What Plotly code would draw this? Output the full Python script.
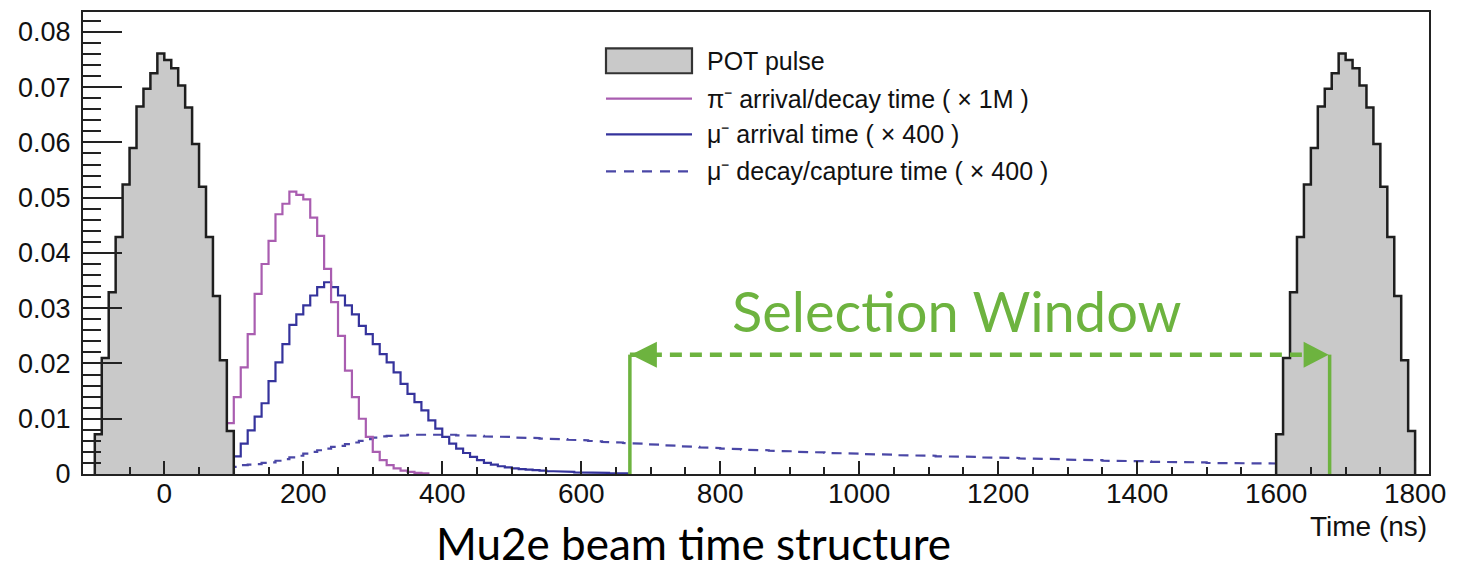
import plotly.graph_objects as go

# ---------------- data ----------------
bin_ns = 10
# proton-on-target pulse, 10 ns bins, starting at -100 ns and repeating at 1600 ns
pot_pulse_starts = [-100, 1600]
pot_pulse = [0.0072, 0.0210, 0.0329, 0.0429, 0.0524, 0.0590, 0.0665, 0.0697, 0.0725, 0.0761,
             0.0749, 0.0734, 0.0703, 0.0663, 0.0597, 0.0520, 0.0429, 0.0322, 0.0206, 0.0078]

# pi- arrival/decay time (x 1M), bins from 90 ns
pion_start = 90
pion = [0.0092, 0.0139, 0.0193, 0.0253, 0.0326, 0.0380, 0.0422, 0.0470, 0.0489, 0.0511,
        0.0505, 0.0497, 0.0464, 0.0431, 0.0371, 0.0311, 0.0250, 0.0187, 0.0139, 0.0100,
        0.0067, 0.0040, 0.0025, 0.0016, 0.0010, 0.0006, 0.0004, 0.0002, 0.0001]

# mu- arrival time (x 400), bins from 100 ns
muon_start = 100
muon_arrival = [0.0032, 0.0055, 0.0079, 0.0104, 0.0128, 0.0168, 0.0202, 0.0235, 0.0270, 0.0289,
                0.0305, 0.0323, 0.0338, 0.0347, 0.0338, 0.0323, 0.0305, 0.0289, 0.0268, 0.0253,
                0.0235, 0.0217, 0.0202, 0.0184, 0.0163, 0.0145, 0.0130, 0.0115, 0.0097, 0.0082,
                0.0067, 0.0055, 0.0046, 0.0038, 0.0031, 0.0025, 0.0020, 0.0017, 0.0014, 0.0012,
                0.0010, 0.0009, 0.0008, 0.0007, 0.0006, 0.0005, 0.0005, 0.0004, 0.0004, 0.0003,
                0.0003, 0.0002, 0.0002, 0.0002, 0.0001, 0.0001, 0.0001]

# mu- decay/capture time (x 400), bins from 100 ns to 1600 ns
decay_start = 100
muon_decay = [0.0013, 0.0016, 0.0017, 0.0018, 0.0020, 0.0021, 0.0024, 0.0027, 0.0030, 0.0033,
              0.0037, 0.0040, 0.0043, 0.0046, 0.0049, 0.0051, 0.0054, 0.0057, 0.0060, 0.0063,
              0.0066, 0.0068, 0.0069, 0.0069, 0.0070, 0.0071, 0.0071, 0.0072, 0.0072, 0.0072,
              0.0071, 0.0071, 0.0070, 0.0070, 0.0069, 0.0069, 0.0068, 0.0068, 0.0067, 0.0067,
              0.0066, 0.0066, 0.0065, 0.0065, 0.0064, 0.0064, 0.0063, 0.0063, 0.0062, 0.0061,
              0.0061, 0.0060, 0.0059, 0.0058, 0.0058, 0.0057, 0.0056, 0.0055, 0.0055, 0.0054,
              0.0053, 0.0053, 0.0052, 0.0051, 0.0050, 0.0050, 0.0049, 0.0048, 0.0048, 0.0047,
              0.0046, 0.0046, 0.0045, 0.0044, 0.0044, 0.0043, 0.0043, 0.0042, 0.0042, 0.0041,
              0.0041, 0.0040, 0.0040, 0.0039, 0.0039, 0.0038, 0.0038, 0.0037, 0.0037, 0.0037,
              0.0036, 0.0036, 0.0035, 0.0035, 0.0035, 0.0034, 0.0034, 0.0034, 0.0033, 0.0033,
              0.0033, 0.0032, 0.0032, 0.0032, 0.0031, 0.0031, 0.0031, 0.0030, 0.0030, 0.0030,
              0.0029, 0.0029, 0.0029, 0.0028, 0.0028, 0.0028, 0.0027, 0.0027, 0.0027, 0.0026,
              0.0026, 0.0026, 0.0025, 0.0025, 0.0025, 0.0024, 0.0024, 0.0024, 0.0023, 0.0023,
              0.0023, 0.0023, 0.0022, 0.0022, 0.0022, 0.0022, 0.0021, 0.0021, 0.0021, 0.0021,
              0.0020, 0.0020, 0.0020, 0.0020, 0.0020, 0.0019, 0.0019, 0.0019, 0.0019, 0.0019]

# selection window (ns) and arrow height
sel_start = 670
sel_end = 1677
sel_y = 0.0216

legend_labels = ["POT pulse",
                 "π⁻ arrival/decay time ( × 1M )",
                 "μ⁻ arrival time ( × 400 )",
                 "μ⁻ decay/capture time ( × 400 )"]

x_range = [-117, 1820]
y_range = [0, 0.0836]

# ---------------- styling ----------------
W, H = 1457, 572
ML, MR, MT, MB = 83, 28, 10, 98
PW, PH = W - ML - MR, H - MT - MB

GREY = "#c9c9c9"
EDGE = "#1e1e1e"
PION_C = "#a95db0"
MU_C = "#35339c"
DECAY_C = "#4a47a6"
GREEN = "#6db33f"
TICK_FONT = "Liberation Sans, Arial, sans-serif"


def step_path(start, width, vals):
    xs, ys = [start], [0]
    for i, v in enumerate(vals):
        x0 = start + i * width
        xs += [x0, x0 + width]
        ys += [v, v]
    xs.append(start + len(vals) * width)
    ys.append(0)
    return xs, ys


def px(xp):
    return (xp - ML) / PW


def py(yp):
    return (H - MB - yp) / PH


fig = go.Figure()

# muon/pion curves first (POT pulses drawn over them, as in the original)
xs, ys = step_path(decay_start, bin_ns, muon_decay)
fig.add_trace(go.Scatter(x=xs, y=ys, mode="lines", name=legend_labels[3],
                         line=dict(color=DECAY_C, width=2.2, dash="10px,7px"), showlegend=False))
xs, ys = step_path(muon_start, bin_ns, muon_arrival)
fig.add_trace(go.Scatter(x=xs, y=ys, mode="lines", name=legend_labels[2],
                         line=dict(color=MU_C, width=2.2), showlegend=False))
xs, ys = step_path(pion_start, bin_ns, pion)
fig.add_trace(go.Scatter(x=xs, y=ys, mode="lines", name=legend_labels[1],
                         line=dict(color=PION_C, width=2.2), showlegend=False))

for s in pot_pulse_starts:
    xs, ys = step_path(s, bin_ns, pot_pulse)
    fig.add_trace(go.Scatter(x=xs, y=ys, mode="lines", name=legend_labels[0], fill="toself",
                             fillcolor=GREY, line=dict(color=EDGE, width=2.5), showlegend=False))

shapes = []
annotations = []

# ---- manual legend (ROOT-style) ----
leg_x0, leg_x1, leg_text_x = 606, 692, 705
leg_rows = [59, 97, 133, 170]
shapes.append(dict(type="rect", xref="paper", yref="paper",
                   x0=px(leg_x0), x1=px(leg_x1), y0=py(leg_rows[0] + 12.5), y1=py(leg_rows[0] - 12.5),
                   fillcolor=GREY, line=dict(color="#333333", width=2.2)))
for row, col, dash in [(leg_rows[1], PION_C, "solid"), (leg_rows[2], MU_C, "solid"),
                       (leg_rows[3], DECAY_C, "10px,8px")]:
    shapes.append(dict(type="line", xref="paper", yref="paper",
                       x0=px(leg_x0), x1=px(leg_x1), y0=py(row), y1=py(row),
                       line=dict(color=col, width=2.2, dash=dash)))
for row, lab in zip(leg_rows, legend_labels):
    annotations.append(dict(text=lab, xref="paper", yref="paper", x=px(leg_text_x), y=py(row),
                            xanchor="left", yanchor="middle", showarrow=False,
                            font=dict(family=TICK_FONT, size=25, color="#111111")))

# ---- selection window ----
shapes.append(dict(type="line", x0=sel_start, x1=sel_end, y0=sel_y, y1=sel_y, layer="above",
                   line=dict(color=GREEN, width=4.5, dash="12px,8px")))
for xv in (sel_start, sel_end):
    shapes.append(dict(type="line", x0=xv, x1=xv, y0=0, y1=sel_y, layer="above",
                       line=dict(color=GREEN, width=3.5)))
shapes.append(dict(type="path", xsizemode="pixel", ysizemode="pixel", xanchor=sel_start, yanchor=sel_y,
                   path="M 1 0 L 27 13 L 27 -13 Z", fillcolor=GREEN, line=dict(width=0), layer="above"))
shapes.append(dict(type="path", xsizemode="pixel", ysizemode="pixel", xanchor=sel_end, yanchor=sel_y,
                   path="M -1 0 L -26 13 L -26 -13 Z", fillcolor=GREEN, line=dict(width=0), layer="above"))
annotations.append(dict(text="Selection Window", x=1141, y=0.0295, xref="x", yref="y",
                        xanchor="center", yanchor="middle", showarrow=False,
                        font=dict(family="Lato, sans-serif", size=56, color=GREEN)))

# ---- axis title and caption ----
annotations.append(dict(text="Time (ns)", xref="paper", yref="paper", x=1.0, y=py(527),
                        xanchor="right", yanchor="middle", showarrow=False,
                        font=dict(family=TICK_FONT, size=28, color="#111111")))
annotations.append(dict(text="Mu2e beam time structure", xref="paper", yref="paper", x=px(693), y=py(571),
                        xanchor="center", yanchor="bottom", showarrow=False,
                        font=dict(family="Lato, sans-serif", size=44, color="#000000")))

fig.update_layout(
    width=W, height=H,
    margin=dict(l=ML, r=MR, t=MT, b=MB, pad=0),
    paper_bgcolor="white", plot_bgcolor="white",
    showlegend=False,
    shapes=shapes, annotations=annotations,
    xaxis=dict(range=x_range, showgrid=False, zeroline=False,
               showline=True, linecolor="#222222", linewidth=2, mirror=True,
               ticks="inside", ticklen=13, tickwidth=2, tickcolor="#222222",
               tick0=0, dtick=200,
               minor=dict(ticks="inside", ticklen=7, tickwidth=2, tickcolor="#222222", dtick=50,
                          showgrid=False),
               tickfont=dict(family=TICK_FONT, size=28, color="#111111"),
               ticklabelstandoff=-7),
    yaxis=dict(range=y_range, showgrid=False, zeroline=False,
               showline=True, linecolor="#222222", linewidth=2, mirror=True,
               ticks="inside", ticklen=39, tickwidth=2, tickcolor="#222222",
               tick0=0, dtick=0.01,
               minor=dict(ticks="inside", ticklen=18, tickwidth=2, tickcolor="#222222", dtick=0.002,
                          showgrid=False),
               tickfont=dict(family=TICK_FONT, size=27, color="#111111"),
               ticklabelstandoff=5),
)

fig.write_html("out.html")
